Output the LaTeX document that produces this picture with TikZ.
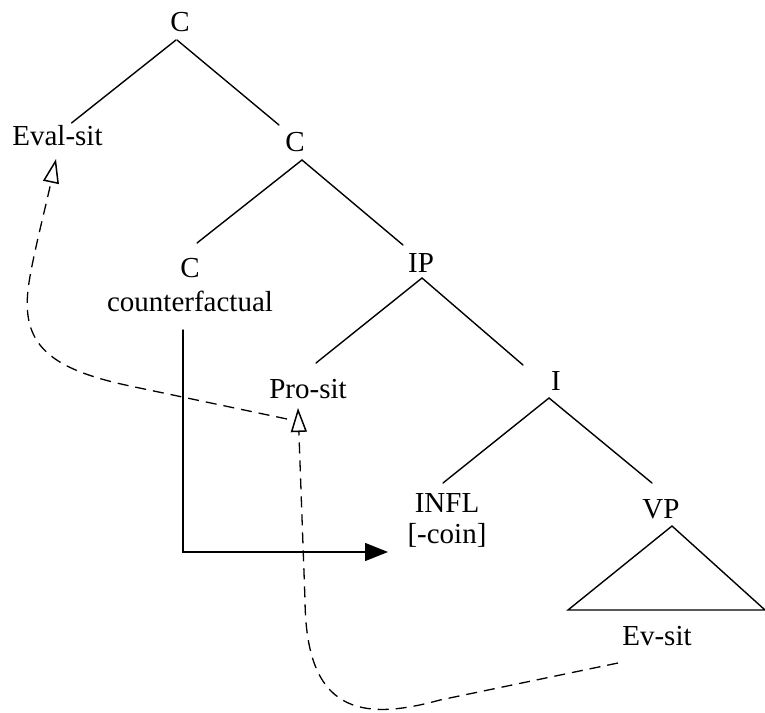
\documentclass[tikz,border=0pt]{standalone}
\usepackage{fontspec}
\setmainfont{Liberation Serif}
\usetikzlibrary{calc,arrows.meta}
\begin{document}
\begin{tikzpicture}[x=1bp,y=-1bp,
  lbl/.style={anchor=base,inner sep=0pt,font=\fontsize{29bp}{32bp}\selectfont},
  branch/.style={line width=1.4bp,line cap=round},
  dsh/.style={line width=1.3bp,dash pattern=on 11bp off 7bp},
  openhead/.style={-{Triangle[open,length=24bp,width=16bp,line width=1.5bp]}},
  solidhead/.style={-{Triangle[length=23bp,width=18bp]}}]
\useasboundingbox (0,0) rectangle (765,713);

% labels (placed by their baselines)
\node[lbl] (c1) at (180,32) {C};
\node[lbl] (evalsit) at (57.5,146) {Eval-sit};
\node[lbl] (c2) at (295,152) {C};
\node[lbl] (ccf) at (190,277) {C};
\node[lbl] (cf) at (190,311) {counterfactual};
\node[lbl] (ip) at (421,272) {IP};
\node[lbl] (prosit) at (308,398) {Pro-sit};
\node[lbl] (i) at (556,390) {I};
\node[lbl] (infl) at (447,512) {INFL};
\node[lbl] (coin) at (447,543) {[-coin]};
\node[lbl] (vp) at (661,518) {VP};
\node[lbl] (evsit) at (657,645) {Ev-sit};

% tree branches
\draw[branch] ($(c1.base)+(-4,8)$) -- ($(evalsit.base)+(14,-23)$);
\draw[branch] ($(c1.base)+(-3,8)$) -- ($(c2.base)+(-16,-27)$);
\draw[branch] ($(c2.base)+(7,8)$) -- ($(ccf.base)+(7,-34)$);
\draw[branch] ($(c2.base)+(7,8)$) -- ($(ip.base)+(-18,-27)$);
\draw[branch] ($(ip.base)+(1,6)$) -- ($(prosit.base)+(8,-35)$);
\draw[branch] ($(ip.base)+(1,6)$) -- ($(i.base)+(-33,-25)$);
\draw[branch] ($(i.base)+(-7,8)$) -- ($(infl.base)+(-4,-29)$);
\draw[branch] ($(i.base)+(-7,8)$) -- ($(vp.base)+(-9,-35)$);

% VP triangle
\draw[branch,line join=miter] ($(vp.base)+(11,8)$) -- ($(vp.base)+(-93,92)$)
  -- ($(vp.base)+(104,92)$) -- cycle;

% counterfactual C reaching INFL
\draw[branch,solidhead] ($(cf.base)+(-7,19)$) |- ($(coin.base)+(-59,9)$);

% Ev-sit to Pro-sit
\draw[dsh,openhead] ($(evsit.base)+(-39,18)$) -- (440,700)
  .. controls (360,722) and (306,712) .. (305,600)
  -- ($(prosit.base)+(-10,10)$);

% Pro-sit to Eval-sit
\draw[dsh,openhead] ($(prosit.base)+(-21,21)$) -- (130,386)
  .. controls (50,369) and (22,345) .. (28,290)
  .. controls (31,263) and (45,210) .. ($(evalsit.base)+(-1.5,13)$);
\end{tikzpicture}
\end{document}
